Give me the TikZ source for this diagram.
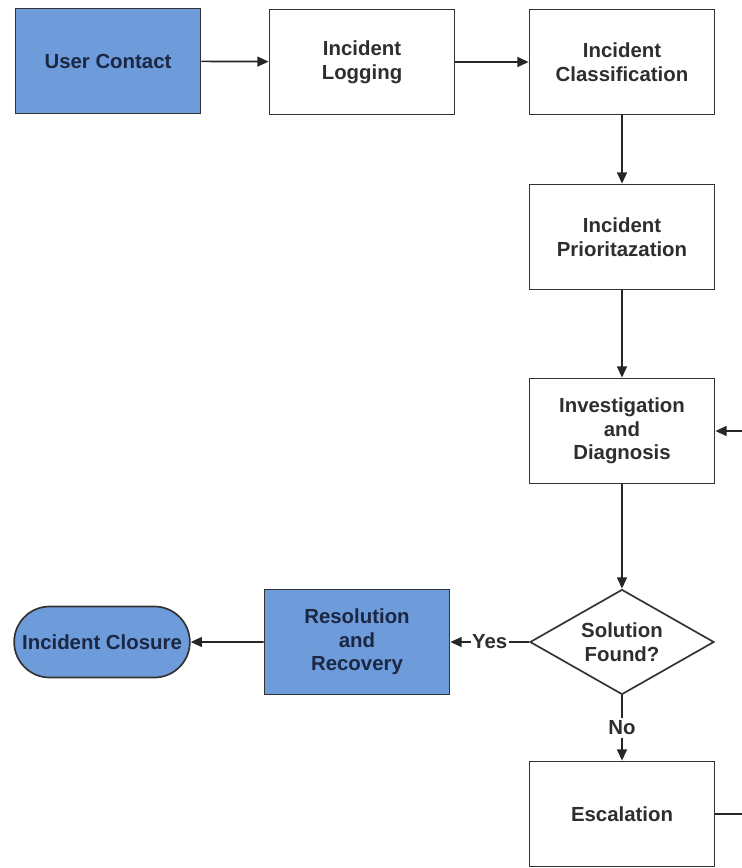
\documentclass[tikz,border=0pt]{standalone}
\usepackage{fontspec}
\setmainfont{Liberation Sans}
\usetikzlibrary{arrows.meta, positioning, shapes.geometric, shapes.misc}
\definecolor{stepBlue}{HTML}{6E9BDA}
\definecolor{lineGray}{HTML}{333333}
\definecolor{textDark}{HTML}{2E2E2E}
\definecolor{textNavy}{HTML}{1B2743}

\begin{document}
\begin{tikzpicture}[x=0.025cm, y=-0.025cm,
    every node/.style={font=\fontsize{14.5}{16.8}\selectfont\bfseries, align=center, text=textDark},
    stepbox/.style={draw=lineGray, line width=1.2pt, fill=white, minimum width=4.625cm, minimum height=2.625cm},
    bluebox/.style={stepbox, fill=stepBlue, text=textNavy},
    decide/.style={draw=lineGray, line width=1.2pt, diamond, shape aspect=1.75, inner sep=0pt,
      minimum width=4.6cm, minimum height=2.625cm},
    endbox/.style={draw=lineGray, line width=1.2pt, fill=stepBlue, text=textNavy, rounded rectangle,
      minimum width=4.625cm, minimum height=1.775cm},
    flow/.style={draw=black!85, line width=1.2pt, -{Triangle[length=8pt,width=7pt]}}]
  \useasboundingbox (0,0) rectangle (742,868);
  \node[bluebox] (contact) at (108,61) {User Contact};
  \node[stepbox] (logging) at (362,62) {Incident\\Logging};
  \node[stepbox] (classify) at (622,62) {Incident\\Classification};
  \node[stepbox] (priority) at (622,237) {Incident\\Prioritazation};
  \node[stepbox] (diagnose) at (622,431) {Investigation\\and\\Diagnosis};
  \node[decide] (found) at (622,642) {Solution\\Found?};
  \node[bluebox] (resolve) at (357,642) {Resolution\\and\\Recovery};
  \node[endbox] (closure) at (102,642) {Incident Closure};
  \node[stepbox] (escalate) at (622,814) {Escalation};
  \coordinate (loopout) at (742,814);
  \coordinate (loopin) at (742,431);

  \draw[flow] (contact) -- (logging);
  \draw[flow] (logging) -- (classify);
  \draw[flow] (classify) -- (priority);
  \draw[flow] (priority) -- (diagnose);
  \draw[flow] (diagnose) -- (found);
  \draw[flow] (found) -- node[fill=white, inner sep=1pt] {Yes} (resolve);
  \draw[flow] (resolve) -- (closure);
  \draw[flow] (found) -- node[fill=white, inner sep=2pt] {No} (escalate);
  \draw[draw=black!85, line width=1.2pt] (escalate) -- (loopout);
  \draw[flow] (loopin) -- (diagnose);
\end{tikzpicture}
\end{document}
